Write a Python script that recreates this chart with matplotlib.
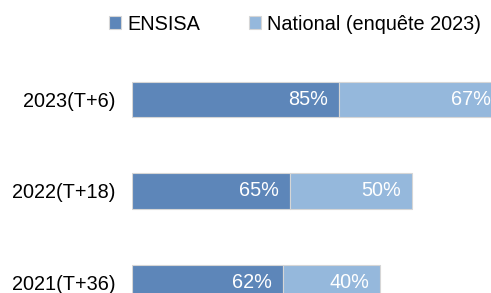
import matplotlib
matplotlib.use("Agg")
import matplotlib.pyplot as plt

plt.rcParams['font.family'] = ['Liberation Sans', 'DejaVu Sans']

# data
categories = ["2021(T+36)", "2022(T+18)", "2023(T+6)"]
ensisa = [62, 65, 85]
national = [40, 50, 67]
series_names = ["ENSISA", "National (enquête 2023)"]

dark = "#5D86B9"
light = "#95B8DC"
edge = "#D6D6D6"

fig = plt.figure(figsize=(4.91, 2.93), dpi=100)
# axes start where the bars start; the right side runs past the figure edge
ax = fig.add_axes([132 / 491, 0, (491 - 132) / 491, 1])
ax.set_xlim(0, 147.4)
ax.set_ylim(-10.5 / 91.5, 282.5 / 91.5)

ypos = list(range(len(categories)))
h = 0.385
b1 = ax.barh(ypos, ensisa, height=h, color=dark, edgecolor=edge, linewidth=0.8, label=series_names[0])
b2 = ax.barh(ypos, national, left=ensisa, height=h, color=light, edgecolor=edge, linewidth=0.8, label=series_names[1])

for bars in (b1, b2):
    for rect in bars:
        w = rect.get_width()
        ax.annotate(f"{w:.0f}%", xy=(rect.get_x() + w, rect.get_y() + rect.get_height() / 2),
                    xytext=(-11, 0), textcoords="offset pixels", annotation_clip=False,
                    ha="right", va="center", color="white", fontsize=14.3)

ax.set_yticks(ypos)
ax.set_yticklabels(categories, fontsize=14.3)
ax.tick_params(axis="y", length=0, pad=12)
ax.set_xticks([])
for s in ax.spines.values():
    s.set_visible(False)

fig.legend(handles=[b1, b2], loc="center", bbox_to_anchor=(295 / 491, 1 - 24 / 293),
           ncol=2, frameon=False, fontsize=14.3, handlelength=0.6, handleheight=0.6,
           handletextpad=0.3, columnspacing=2.45)

fig.savefig("out.png", dpi=100)
